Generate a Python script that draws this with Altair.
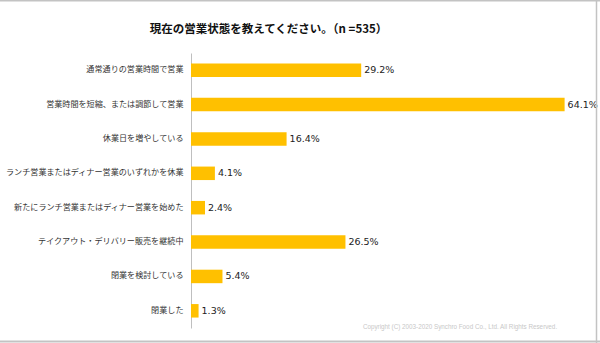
import altair as alt
import pandas as pd

categories = [
    "通常通りの営業時間で営業",
    "営業時間を短縮、または調節して営業",
    "休業日を増やしている",
    "ランチ営業またはディナー営業のいずれかを休業",
    "新たにランチ営業またはディナー営業を始めた",
    "テイクアウト・デリバリー販売を継続中",
    "閉業を検討している",
    "閉業した",
]
values = [29.2, 64.1, 16.4, 4.1, 2.4, 26.5, 5.4, 1.3]
value_labels = ["29.2%", "64.1%", "16.4%", "4.1%", "2.4%", "26.5%", "5.4%", "1.3%"]
title_text = "現在の営業状態を教えてください。（n =535）"
copyright_text = "Copyright (C) 2003-2020  Synchro Food Co., Ltd. All Rights Reserved."

df = pd.DataFrame({"cat": categories, "val": values, "label": value_labels})

y_enc = alt.Y(
    "cat:N",
    sort=categories,
    scale=alt.Scale(paddingInner=0, paddingOuter=0),
    axis=alt.Axis(
        title=None, ticks=False, domain=True, domainColor="#bfbfbf", domainWidth=1,
        labelFont="Noto Sans CJK JP", labelFontSize=8.1, labelColor="#333333",
        labelPadding=8, labelLimit=300, grid=False,
    ),
)
x_enc = alt.X("val:Q", scale=alt.Scale(domain=[0, 70], nice=False, zero=True), axis=None)

bars = alt.Chart(df).mark_bar(size=13.5, color="#FFC000").encode(x=x_enc, y=y_enc)
text = alt.Chart(df).mark_text(
    align="left", baseline="middle", dx=3, font="DejaVu Sans", fontSize=9.5, color="#222222"
).encode(x=x_enc, y=alt.Y("cat:N", sort=categories), text="label:N")

one = pd.DataFrame({"t": [copyright_text], "h": [title_text]})
copyright = alt.Chart(one).mark_text(
    align="center", baseline="middle", font="Liberation Sans", fontSize=6.3, color="#c8c8c8"
).encode(x=alt.value(269), y=alt.value(274), text="t:N")

title = alt.Chart(one).mark_text(
    align="center", baseline="middle", font="Noto Sans CJK JP", fontSize=11.5,
    fontWeight="bold", color="#111111"
).encode(x=alt.value(77.5), y=alt.value(-23.5), text="h:N")

frame_color = "#c3c3c3"
top_rule = alt.Chart(one).mark_rule(color=frame_color, strokeWidth=2).encode(
    x=alt.value(-191), x2=alt.value(409), y=alt.value(-52.5))
right_rule = alt.Chart(one).mark_rule(color=frame_color, strokeWidth=1.5).encode(
    x=alt.value(405.5), y=alt.value(-53), y2=alt.value(290))
bottom_rule = alt.Chart(one).mark_rule(color=frame_color, strokeWidth=2).encode(
    x=alt.value(-191), x2=alt.value(409), y=alt.value(288.5))

chart = alt.layer(bars, text, copyright, title, top_rule, right_rule, bottom_rule).properties(
    width=408,
    height=275,
    autosize=alt.AutoSizeParams(type="none"),
    padding={"left": 191, "top": 53, "right": 1, "bottom": 15},
).configure(background="white").configure_view(stroke=None)

chart.save("out.html", embed_options={"renderer": "svg", "actions": False})
